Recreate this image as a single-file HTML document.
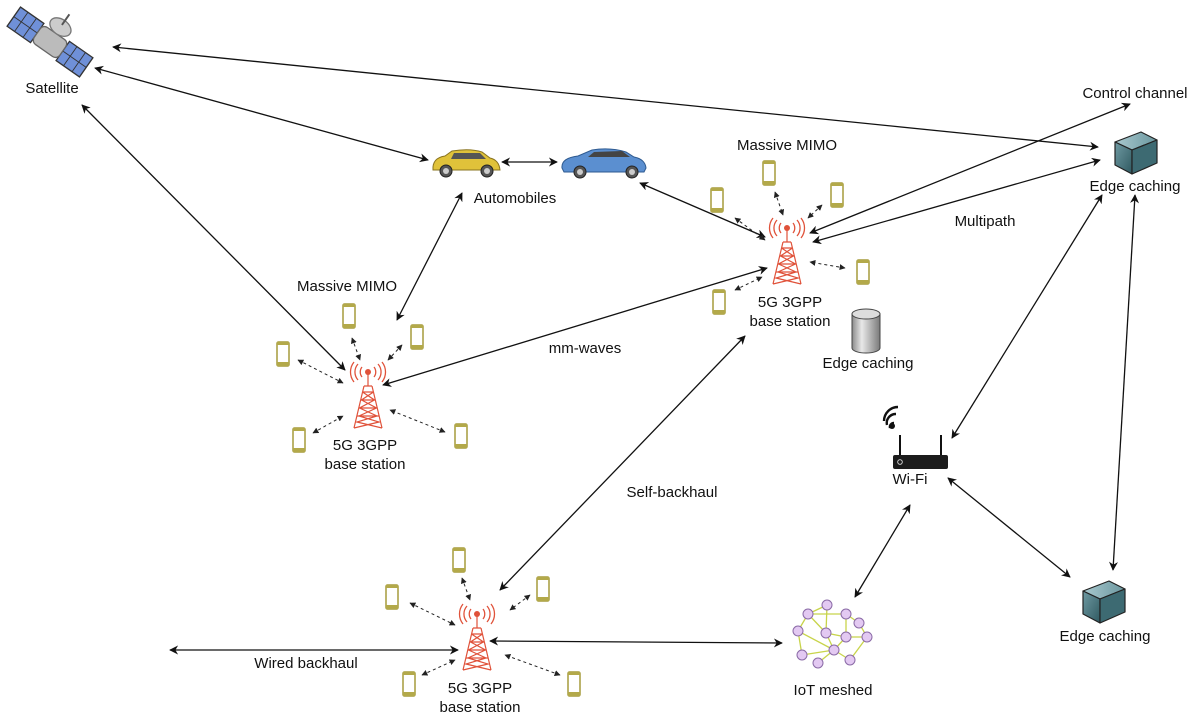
<!DOCTYPE html>
<html><head><meta charset="utf-8"><style>
html,body{margin:0;padding:0;background:#fff;}
svg{display:block;}
text{font-family:"Liberation Sans",Arial,sans-serif;font-size:15px;fill:#111;}
</style></head><body>
<svg width="1200" height="724" viewBox="0 0 1200 724" xmlns="http://www.w3.org/2000/svg">
<defs>
<marker id="ah" viewBox="0 0 10 10" refX="9" refY="5" markerWidth="9" markerHeight="9" orient="auto-start-reverse" markerUnits="userSpaceOnUse">
<path d="M0,0 L10,5 L0,10 L3,5 Z" fill="#111"/></marker>
<marker id="sh" viewBox="0 0 10 10" refX="9" refY="5" markerWidth="6" markerHeight="6" orient="auto-start-reverse" markerUnits="userSpaceOnUse">
<path d="M0,0 L10,5 L0,10 Z" fill="#222"/></marker>
<g id="tower" fill="none" stroke="#e0523a" stroke-width="1.3">
<circle cx="0" cy="0" r="3" fill="#e0523a" stroke="none"/>
<path d="M-6,-5 A8,8 0 0 0 -6,5 M6,-5 A8,8 0 0 1 6,5 M-10,-8 A12,12 0 0 0 -10,8 M10,-8 A12,12 0 0 1 10,8 M-14,-10 A16,16 0 0 0 -14,10 M14,-10 A16,16 0 0 1 14,10"/>
<path d="M0,0 V14 M-4,14 L-14,56 M4,14 L14,56 M-4,14 H4 M-5.5,20 L6.5,28 L-8.5,36 L9,44 L-11,50 L14,56 M5.5,20 L-6.5,28 L8.5,36 L-9,44 L11,50 L-14,56 M-5.5,20 H5.5 M-7,28 H7 M-9,36 H9 M-11,44 H11" stroke-width="1.2"/>
</g>
<g id="phone">
<rect x="-6" y="-12" width="12" height="24" rx="1.5" fill="#fff" stroke="#a69c3c" stroke-width="1.5"/>
<rect x="-6" y="-12" width="12" height="3" fill="#b3a94a"/>
<rect x="-6" y="8" width="12" height="4" fill="#b3a94a"/>
</g>
<linearGradient id="cf" x1="0" y1="0" x2="1" y2="1"><stop offset="0" stop-color="#6f9aa3"/><stop offset="1" stop-color="#2f5960"/></linearGradient>
<linearGradient id="ct" x1="0" y1="0" x2="1" y2="0"><stop offset="0" stop-color="#a9c9cf"/><stop offset="1" stop-color="#6b979f"/></linearGradient>
<g id="cube" stroke="#222" stroke-width="1.2" stroke-linejoin="round">
<path d="M0,10 L26,0 L42,8 L17,18 Z" fill="url(#ct)"/>
<path d="M0,10 L17,18 L17,42 L0,33 Z" fill="url(#cf)"/>
<path d="M17,18 L42,8 L42,31 L17,42 Z" fill="#3d6a72"/>
</g>
<linearGradient id="cyl" x1="0" y1="0" x2="1" y2="0"><stop offset="0" stop-color="#8a8a8a"/><stop offset="0.35" stop-color="#e8e8e8"/><stop offset="1" stop-color="#7a7a7a"/></linearGradient>
</defs>

<g stroke="#111" stroke-width="1.3" fill="none" marker-start="url(#ah)" marker-end="url(#ah)">
<line x1="113" y1="47" x2="1098" y2="147"/>
<line x1="95" y1="68" x2="428" y2="160"/>
<line x1="82" y1="105" x2="345" y2="370"/>
<line x1="502" y1="162" x2="557" y2="162"/>
<line x1="462" y1="193" x2="397" y2="320"/>
<line x1="640" y1="183" x2="765" y2="237"/>
<line x1="383" y1="385" x2="767" y2="268"/>
<line x1="810" y1="233" x2="1130" y2="104"/>
<line x1="813" y1="242" x2="1100" y2="160"/>
<line x1="745" y1="336" x2="500" y2="590"/>
<line x1="170" y1="650" x2="458" y2="650"/>
<line x1="490" y1="641" x2="782" y2="643"/>
<line x1="855" y1="597" x2="910" y2="505"/>
<line x1="952" y1="438" x2="1102" y2="195"/>
<line x1="948" y1="478" x2="1070" y2="577"/>
<line x1="1135" y1="195" x2="1113" y2="570"/>
</g>

<g stroke="#222" stroke-width="1" stroke-dasharray="3,3" fill="none" marker-start="url(#sh)" marker-end="url(#sh)">
<line x1="352" y1="338" x2="360" y2="360"/>
<line x1="402" y1="345" x2="388" y2="360"/>
<line x1="298" y1="360" x2="343" y2="383"/>
<line x1="313" y1="433" x2="343" y2="416"/>
<line x1="445" y1="432" x2="390" y2="410"/>
<line x1="775" y1="192" x2="783" y2="215"/>
<line x1="822" y1="205" x2="808" y2="218"/>
<line x1="735" y1="218" x2="765" y2="240"/>
<line x1="845" y1="268" x2="810" y2="262"/>
<line x1="735" y1="290" x2="762" y2="277"/>
<line x1="462" y1="578" x2="470" y2="600"/>
<line x1="530" y1="595" x2="510" y2="610"/>
<line x1="410" y1="603" x2="455" y2="625"/>
<line x1="422" y1="675" x2="455" y2="660"/>
<line x1="560" y1="675" x2="505" y2="655"/>
</g>

<use href="#tower" x="368" y="372"/>
<use href="#tower" x="787" y="228"/>
<use href="#tower" x="477" y="614"/>

<use href="#phone" x="349" y="316"/><use href="#phone" x="417" y="337"/><use href="#phone" x="283" y="354"/><use href="#phone" x="299" y="440"/><use href="#phone" x="461" y="436"/>
<use href="#phone" x="769" y="173"/><use href="#phone" x="837" y="195"/><use href="#phone" x="717" y="200"/><use href="#phone" x="863" y="272"/><use href="#phone" x="719" y="302"/>
<use href="#phone" x="459" y="560"/><use href="#phone" x="543" y="589"/><use href="#phone" x="392" y="597"/><use href="#phone" x="409" y="684"/><use href="#phone" x="574" y="684"/>

<g transform="translate(50,42) rotate(35) scale(1.3)">
<rect x="-34" y="-9" width="22" height="18" fill="#6f90d8" stroke="#333" stroke-width="1"/>
<path d="M-27,-9 V9 M-19,-9 V9 M-34,0 H-12" stroke="#333" stroke-width="0.7"/>
<rect x="12" y="-9" width="22" height="18" fill="#6f90d8" stroke="#333" stroke-width="1"/>
<path d="M19,-9 V9 M27,-9 V9 M12,0 H34" stroke="#333" stroke-width="0.7"/>
<rect x="-12" y="-8" width="24" height="16" rx="4" fill="#bbb" stroke="#666"/>
<ellipse cx="0" cy="-14" rx="9" ry="6" fill="#ccc" stroke="#777"/>
<line x1="0" y1="-16" x2="0" y2="-26" stroke="#555" stroke-width="1.5"/>
</g>

<g>
<path d="M433,170 Q432,158 445,156 L452,151 Q470,148 482,152 L490,158 Q499,160 500,170 Z" fill="#e0c23a" stroke="#8a7420" stroke-width="1"/>
<path d="M454,153 L480,153 L486,159 L451,159 Z" fill="#555"/>
<circle cx="446" cy="171" r="6" fill="#555" stroke="#222"/><circle cx="446" cy="171" r="3" fill="#ccc"/>
<circle cx="487" cy="171" r="6" fill="#555" stroke="#222"/><circle cx="487" cy="171" r="3" fill="#ccc"/>
</g>
<g>
<path d="M562,168 Q561,158 578,156 L592,150 Q610,147 626,152 L634,157 Q645,159 646,168 L644,172 L564,172 Z" fill="#5b8fd0" stroke="#2e5a90" stroke-width="1"/>
<path d="M594,152 L622,151 L630,157 L588,157 Z" fill="#444"/>
<circle cx="580" cy="172" r="6" fill="#555" stroke="#222"/><circle cx="580" cy="172" r="3" fill="#ccc"/>
<circle cx="632" cy="172" r="6" fill="#555" stroke="#222"/><circle cx="632" cy="172" r="3" fill="#ccc"/>
</g>

<use href="#cube" x="1115" y="132"/>
<use href="#cube" x="1083" y="581"/>

<path d="M852,314 V348 A14,5 0 0 0 880,348 V314 Z" fill="url(#cyl)" stroke="#444"/>
<ellipse cx="866" cy="314" rx="14" ry="5" fill="#ddd" stroke="#444"/>

<g transform="translate(0,-5)">
<path d="M884,426 A14,14 0 0 1 898,412 M887,430 A9,9 0 0 1 896,419 M890,433 A4,4 0 0 1 894,428" stroke="#111" stroke-width="2.4" fill="none"/>
<circle cx="892" cy="431" r="3" fill="#111"/>
<line x1="900" y1="440" x2="900" y2="460" stroke="#111" stroke-width="2"/>
<line x1="941" y1="440" x2="941" y2="460" stroke="#111" stroke-width="2"/>
<rect x="893" y="460" width="55" height="14" rx="2" fill="#1c1c1c"/>
<circle cx="900" cy="467" r="2.3" fill="none" stroke="#ddd" stroke-width="0.9"/>
</g>

<g stroke="#c8d44a" stroke-width="1.3">
<line x1="827" y1="605" x2="826" y2="633"/><line x1="808" y1="614" x2="846" y2="614"/><line x1="827" y1="605" x2="808" y2="614"/>
<line x1="846" y1="614" x2="859" y2="623"/><line x1="846" y1="614" x2="846" y2="637"/><line x1="808" y1="614" x2="798" y2="631"/>
<line x1="798" y1="631" x2="834" y2="650"/><line x1="798" y1="631" x2="802" y2="655"/><line x1="826" y1="633" x2="846" y2="637"/>
<line x1="846" y1="637" x2="867" y2="637"/><line x1="859" y1="623" x2="867" y2="637"/><line x1="834" y1="650" x2="850" y2="660"/>
<line x1="802" y1="655" x2="834" y2="650"/><line x1="818" y1="663" x2="834" y2="650"/><line x1="867" y1="637" x2="850" y2="660"/>
<line x1="808" y1="614" x2="826" y2="633"/><line x1="846" y1="637" x2="834" y2="650"/><line x1="826" y1="633" x2="834" y2="650"/>
</g>
<g fill="#e3c9f2" stroke="#8a6aa6" stroke-width="1">
<circle cx="827" cy="605" r="5"/><circle cx="808" cy="614" r="5"/><circle cx="846" cy="614" r="5"/><circle cx="859" cy="623" r="5"/>
<circle cx="798" cy="631" r="5"/><circle cx="826" cy="633" r="5"/><circle cx="846" cy="637" r="5"/><circle cx="867" cy="637" r="5"/>
<circle cx="834" cy="650" r="5"/><circle cx="802" cy="655" r="5"/><circle cx="818" cy="663" r="5"/><circle cx="850" cy="660" r="5"/>
</g>

<g text-anchor="middle">
<text x="52" y="93">Satellite</text>
<text x="515" y="203">Automobiles</text>
<text x="347" y="291">Massive MIMO</text>
<text x="787" y="150">Massive MIMO</text>
<text x="365" y="450">5G 3GPP</text>
<text x="365" y="469">base station</text>
<text x="790" y="307">5G 3GPP</text>
<text x="790" y="326">base station</text>
<text x="480" y="693">5G 3GPP</text>
<text x="480" y="712">base station</text>
<text x="585" y="353">mm-waves</text>
<text x="868" y="368">Edge caching</text>
<text x="1135" y="191">Edge caching</text>
<text x="1135" y="98">Control channel</text>
<text x="985" y="226">Multipath</text>
<text x="910" y="484">Wi-Fi</text>
<text x="672" y="497">Self-backhaul</text>
<text x="306" y="668">Wired backhaul</text>
<text x="833" y="695">IoT meshed</text>
<text x="1105" y="641">Edge caching</text>
</g>
</svg>
</body></html>
